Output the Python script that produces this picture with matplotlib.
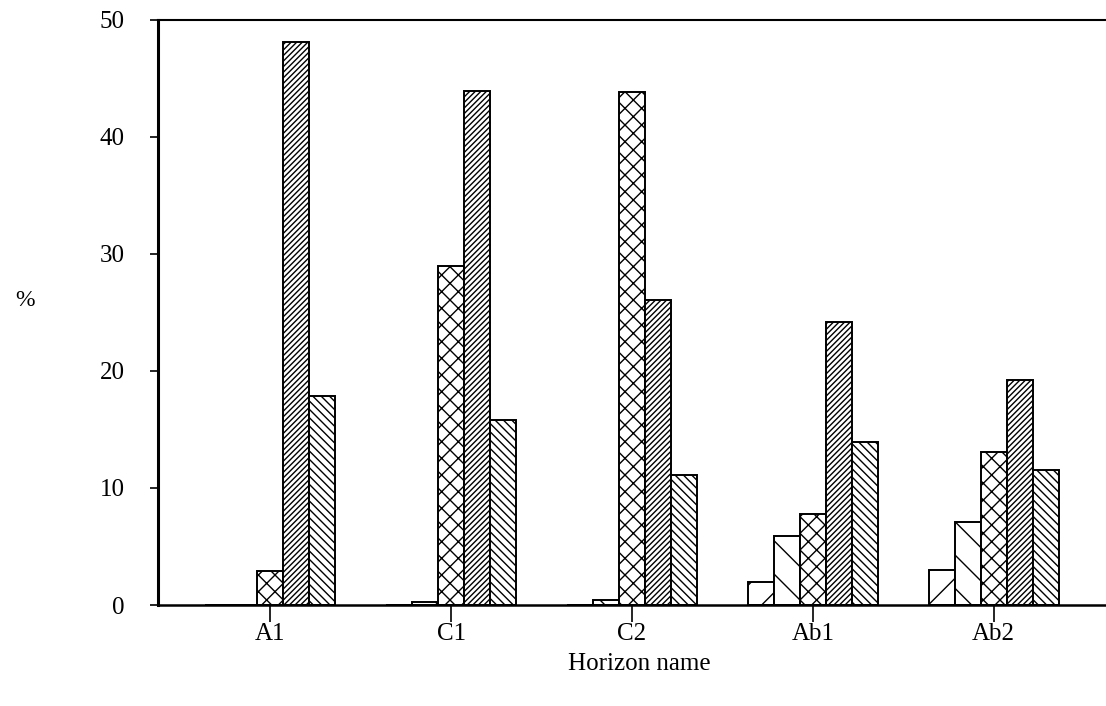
import matplotlib
matplotlib.use("Agg")
import matplotlib.pyplot as plt
import numpy as np
from matplotlib import font_manager

categories = ["A1", "C1", "C2", "Ab1", "Ab2"]
series1 = [0.0, 0.0, 0.0, 2.0, 3.0]
series2 = [0.0, 0.3, 0.4, 5.9, 7.1]
series3 = [2.9, 29.0, 43.8, 7.8, 13.1]
series4 = [48.1, 43.9, 26.1, 24.2, 19.2]
series5 = [17.9, 15.8, 11.1, 13.9, 11.5]
yticks = [0, 10, 20, 30, 40, 50]

series = [series1, series2, series3, series4, series5]
hatches = ["/", "\\", "xx", "//////", "\\\\\\\\"]

names = {f.name for f in font_manager.fontManager.ttflist}
font = "DejaVu Serif Condensed" if "DejaVu Serif Condensed" in names else "Liberation Serif"
stretch = "condensed"

plt.rcParams["hatch.linewidth"] = 1.0
fig = plt.figure(figsize=(11.06, 7.06), dpi=100)
ax = fig.add_axes([0.1429, 0.143, 0.857, 0.829])

x = np.arange(len(categories))
w = 0.144
for i, (vals, h) in enumerate(zip(series, hatches)):
    ax.bar(x + (i - 2) * w, vals, width=w, facecolor="white",
           edgecolor="black", linewidth=1.4, hatch=h)

ax.set_xlim(-0.62, 4.62)
ax.set_ylim(0, 50)
ax.set_yticks(yticks)
ax.set_xticks(x)
ax.set_xticklabels(categories, fontsize=18, family=font, stretch=stretch)
ax.set_yticklabels([str(t) for t in yticks], fontsize=18, family=font, stretch=stretch)
ax.tick_params(axis="y", direction="out", length=6, width=1.2, pad=18)
ax.tick_params(axis="x", direction="out", length=12, width=1.2, pad=1)

ax.spines["right"].set_visible(False)
ax.spines["left"].set_linewidth(2.2)
ax.spines["bottom"].set_linewidth(1.8)
ax.spines["top"].set_linewidth(1.5)

fig.text(0.014, 0.575, "%", fontsize=17, family=font, ha="left", va="center")
fig.text(0.578, 0.06, "Horizon name", fontsize=18, family=font, stretch=stretch,
         ha="center", va="center")

fig.savefig("out.png", dpi=100)
